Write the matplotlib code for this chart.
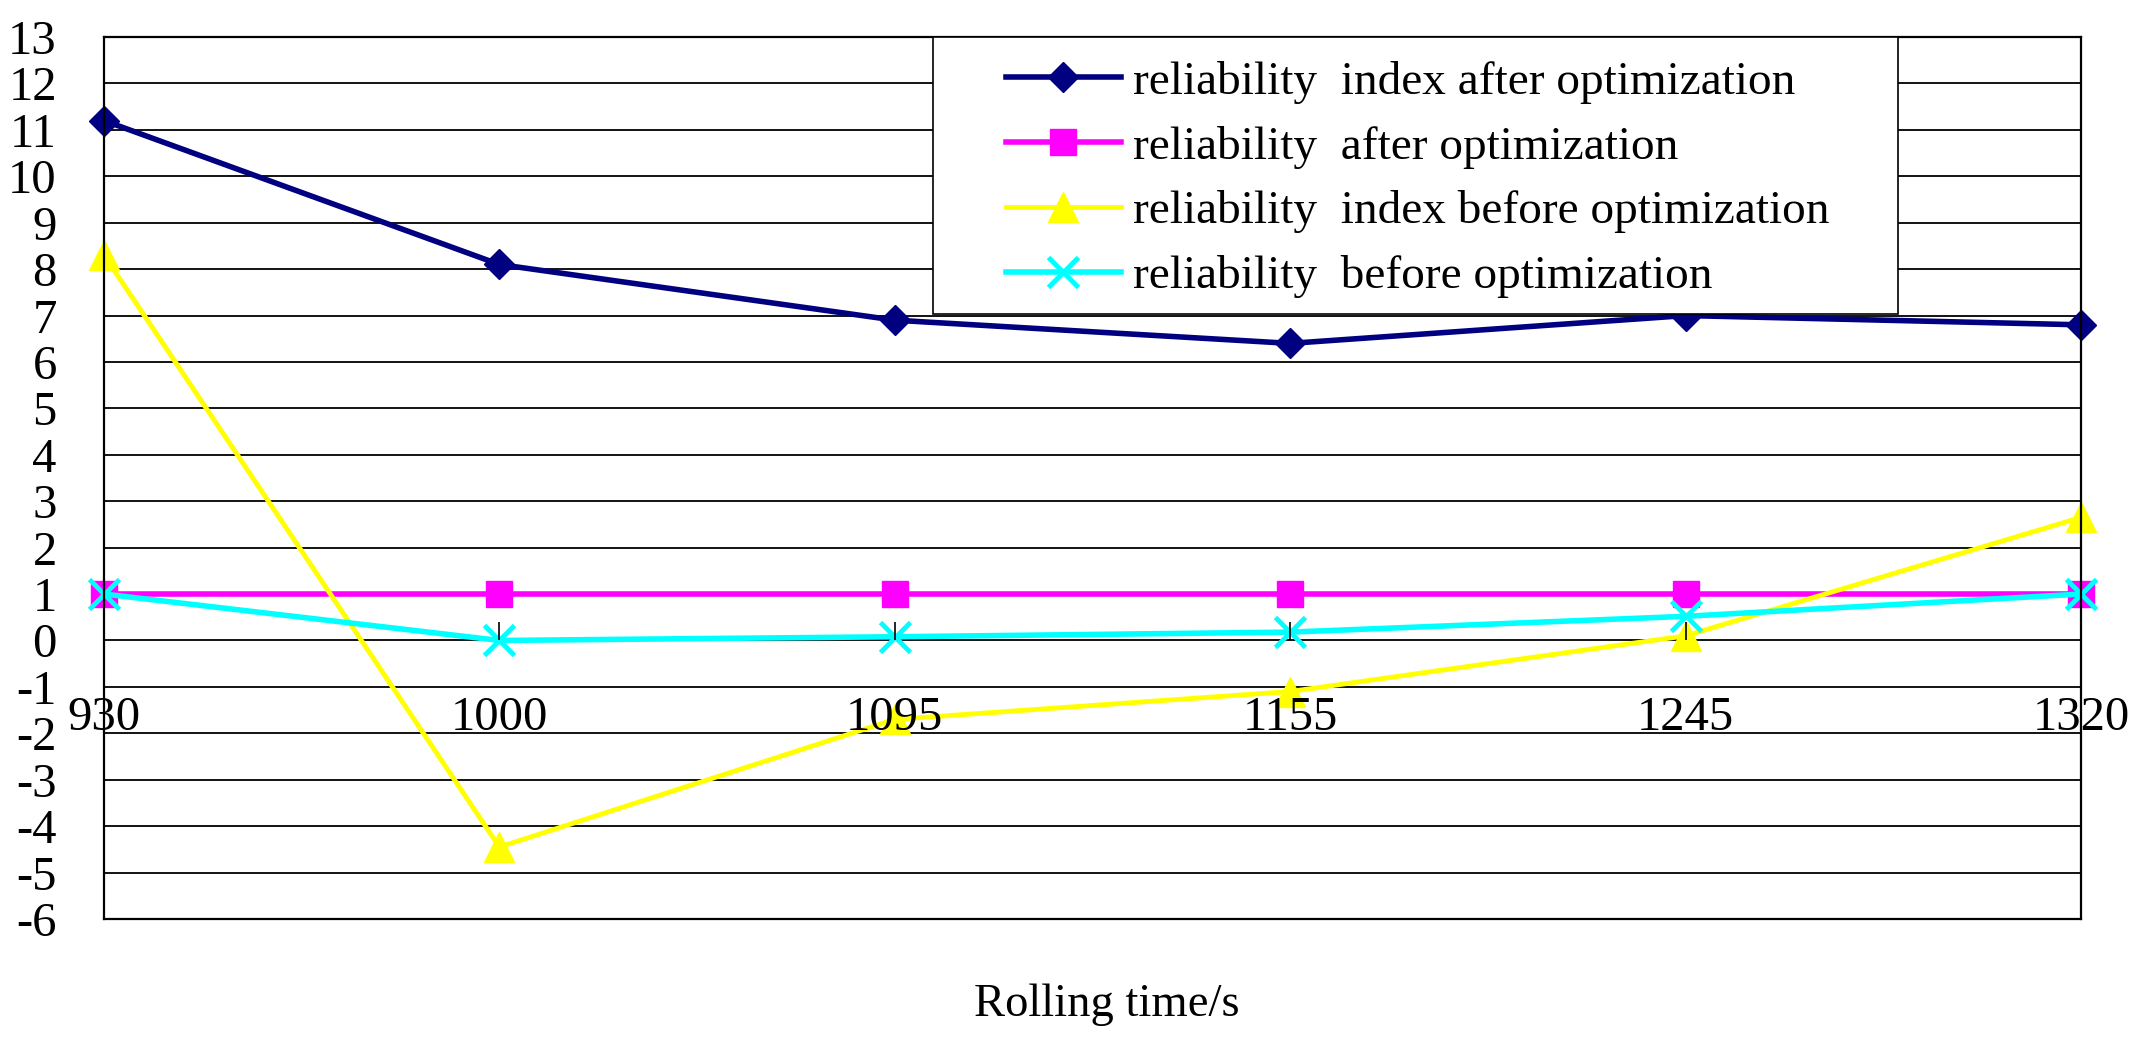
import numpy as np
import matplotlib
matplotlib.use('Agg')
import matplotlib.pyplot as plt
from matplotlib.patches import Rectangle

plt.rcParams['font.family'] = ['Liberation Serif', 'DejaVu Serif']
plt.rcParams['axes.unicode_minus'] = False

# rolling times (categories) and the four series
categories = ['930', '1000', '1095', '1155', '1245', '1320']
index_after = [11.2, 8.1, 6.9, 6.4, 7.0, 6.8]
rel_after = [1.0, 1.0, 1.0, 1.0, 1.0, 1.0]
index_before = [8.3, -4.45, -1.7, -1.1, 0.1, 2.65]
rel_before = [1.0, 0.0, 0.08, 0.18, 0.52, 1.0]
labels = ['reliability  index after optimization',
          'reliability  after optimization',
          'reliability  index before optimization',
          'reliability  before optimization']
yticks = list(range(-6, 14))

x = np.arange(len(categories))

fig = plt.figure(figsize=(21.4, 10.43), dpi=100)
ax = fig.add_axes([0.0486, 0.1189, 0.9238, 0.8456])

l1, = ax.plot(x, index_after, color='#000080', lw=4, marker='D', ms=15,
              mec='#000080', mfc='#000080', clip_on=False)
l2, = ax.plot(x, rel_after, color='#FF00FF', lw=4, marker='s', ms=18.5,
              mec='#FF00FF', mfc='#FF00FF', clip_on=False)
l3, = ax.plot(x, index_before, color='#FFFF00', lw=3.5, marker='^', ms=22,
              mec='#FFFF00', mfc='#FFFF00', clip_on=False)
l4, = ax.plot(x, rel_before, color='#00FFFF', lw=4, marker='x', ms=21,
              mew=3.5, mec='#00FFFF', clip_on=False)

ax.set_xlim(0, len(categories) - 1)
ax.set_ylim(-6, 13)
ax.set_yticks(yticks)
ax.yaxis.grid(True, color='black', lw=1.3)
ax.tick_params(axis='y', length=0, pad=34, labelsize=35)
ax.tick_params(axis='x', bottom=False, labelbottom=False)
for sp in ax.spines.values():
    sp.set_color('black')
    sp.set_linewidth(1.6)

# category axis crosses at y = 0, labels hang below it
sec = ax.secondary_xaxis(6 / 19)
sec.set_xticks(x, categories)
sec.spines['bottom'].set_visible(False)
sec.tick_params(axis='x', direction='in', length=13, width=1.2, pad=40,
                labelsize=35, colors='black')
sec.set_zorder(3)

# legend box
ax.add_patch(Rectangle((0.4193, 0.686), 0.4881, 0.314, transform=ax.transAxes,
                       facecolor='white', edgecolor='black', lw=1.2, zorder=4))
leg = ax.legend([l1, l2, l3, l4], labels, loc='upper left',
                bbox_to_anchor=(0.4563, 0.973), frameon=False, fontsize=34,
                handlelength=2.43, handletextpad=0.26, labelspacing=0.46,
                borderpad=0, borderaxespad=0)
leg.set_zorder(5)

fig.text(0.517, 0.0262, 'Rolling time/s', fontsize=33.6, ha='center',
         va='baseline')

fig.savefig('out.png', dpi=100)
